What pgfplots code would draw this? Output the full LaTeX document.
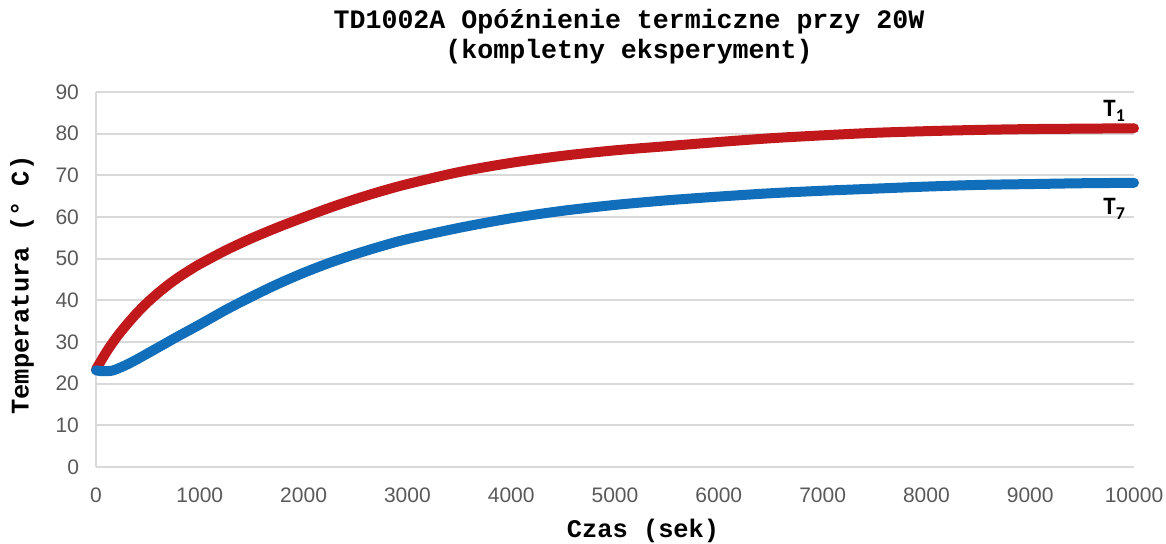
\documentclass[border=0pt]{standalone}
\usepackage{fontspec}
\setmainfont{Liberation Sans}
\newfontfamily\monofont{Liberation Mono}
\newfontfamily\carlito{Carlito}
\usepackage{pgfplots}
\pgfplotsset{compat=1.18}
\definecolor{tred}{RGB}{192,24,27}
\definecolor{tblue}{RGB}{17,110,186}
\definecolor{gridc}{RGB}{217,217,217}
\definecolor{tickc}{RGB}{89,89,89}
\begin{document}
\begin{tikzpicture}
\useasboundingbox (-48pt,-38.5pt) rectangle (535pt,233.5pt);
\begin{axis}[
  at={(0,0)}, anchor=south west,
  scale only axis, width=519pt, height=187.5pt,
  xmin=0, xmax=10000, ymin=0, ymax=90,
  xtick={0,1000,...,10000}, ytick={0,10,...,90},
  scaled ticks=false,
  axis x line*=bottom, axis y line*=left,
  axis line style={draw=gridc, line width=0.9pt, -},
  major tick length=0pt,
  ymajorgrids, grid style={draw=gridc, line width=0.9pt},
  /pgf/number format/assume math mode=true,
  /pgf/number format/set thousands separator={},
  tick label style={font=\fontsize{10.5}{12}\selectfont, text=tickc},
  xticklabel style={yshift=-7pt},
  yticklabel style={xshift=-5pt},
  clip=false,
  xlabel={\monofont\bfseries Czas (sek)},
  ylabel={\monofont\bfseries Temperatura (° C)},
  label style={font=\fontsize{12.7}{14}\selectfont},
  x label style={at={(axis description cs:0.527,-0.1715)}, anchor=center},
  y label style={at={(axis description cs:-0.0713,0.485)}, anchor=center},
]
\addplot[tred, line width=5pt, line cap=round, line join=round, smooth] coordinates {
(0,23.4) (100,27.6) (200,31.2) (300,34.3) (400,37.1) (500,39.6) (600,41.8) (700,43.8)
(800,45.6) (900,47.2) (1000,48.7) (1250,52.0) (1500,54.9) (1750,57.5) (2000,59.9) (2250,62.2)
(2500,64.3) (2750,66.2) (3000,67.9) (3500,70.8) (4000,73.0) (4500,74.7) (5000,76.0)
(5500,77.0) (6000,78.0) (6500,78.9) (7000,79.6) (7500,80.2) (8000,80.6) (8500,80.9)
(9000,81.1) (9500,81.2) (10000,81.3)
};
\addplot[tblue, line width=5pt, line cap=round, line join=round, smooth] coordinates {
(0,23.2) (50,23.0) (100,23.0) (150,23.1) (200,23.5) (300,24.6) (400,25.9) (500,27.3)
(600,28.7) (700,30.1) (800,31.5) (1000,34.2) (1250,37.7) (1500,40.9) (1750,43.9)
(2000,46.6) (2250,49.0) (2500,51.1) (2750,53.0) (3000,54.7) (3500,57.4) (4000,59.7) (4500,61.5) (5000,62.9)
(5500,64.0) (6000,64.9) (6500,65.7) (7000,66.3) (7500,66.8) (8000,67.3) (8500,67.7)
(9000,67.9) (9500,68.1) (10000,68.2)
};
\node[anchor=base west, inner sep=0pt, font=\carlito\bfseries\fontsize{12.5}{14}\selectfont] at (axis cs:9701,84.0) {T\raisebox{-0.4ex}{\fontsize{9}{10}\selectfont 1}};
\node[anchor=base west, inner sep=0pt, font=\carlito\bfseries\fontsize{12.5}{14}\selectfont] at (axis cs:9701,60.5) {T\raisebox{-0.4ex}{\fontsize{9}{10}\selectfont 7}};
\end{axis}
\node[font=\monofont\bfseries\fontsize{13.3}{15}\selectfont] at (266.5pt,222.5pt) {TD1002A Opóźnienie termiczne przy 20W};
\node[font=\monofont\bfseries\fontsize{13.3}{15}\selectfont] at (266.5pt,207.5pt) {(kompletny eksperyment)};
\end{tikzpicture}
\end{document}
